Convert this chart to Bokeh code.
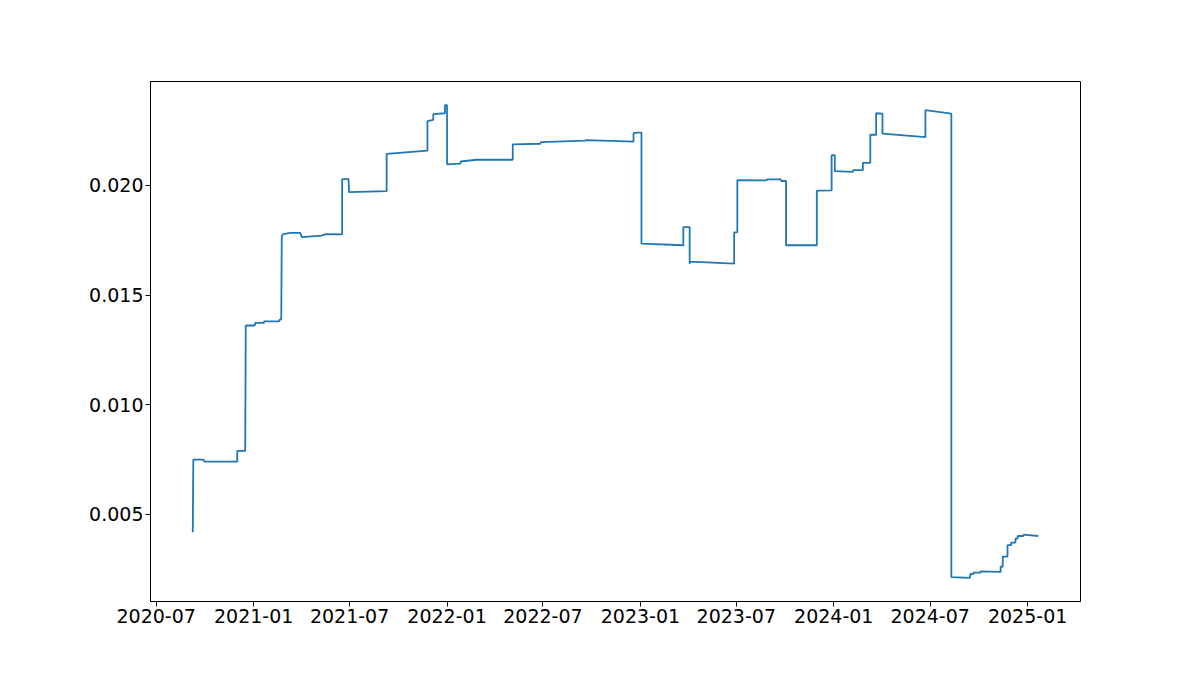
import datetime as dt
from bokeh.plotting import figure
from bokeh.models import FixedTicker, Range1d, CustomJSTickFormatter, NumeralTickFormatter
from bokeh.embed import file_html
from bokeh.resources import INLINE

dates = [
    "2020-09-08", "2020-09-09", "2020-09-28", "2020-09-30", "2020-12-01", "2020-12-01",
    "2020-12-16", "2020-12-17", "2021-01-03", "2021-01-04", "2021-01-20", "2021-01-21",
    "2021-02-18", "2021-02-19", "2021-02-22", "2021-02-23", "2021-02-26", "2021-03-11",
    "2021-03-30", "2021-04-02", "2021-05-09", "2021-05-17", "2021-06-17", "2021-06-17",
    "2021-06-29", "2021-06-30", "2021-09-09", "2021-09-09", "2021-11-25", "2021-11-25",
    "2021-12-06", "2021-12-06", "2021-12-28", "2021-12-28", "2022-01-01", "2022-01-01",
    "2022-01-26", "2022-01-27", "2022-02-26", "2022-05-05", "2022-05-05", "2022-06-26",
    "2022-06-27", "2022-09-19", "2022-09-20", "2022-12-19", "2022-12-19", "2022-12-25",
    "2023-01-03", "2023-01-03", "2023-03-23", "2023-03-23", "2023-04-04", "2023-04-04",
    "2023-04-05", "2023-06-27", "2023-06-27", "2023-07-03", "2023-07-03", "2023-08-27",
    "2023-08-28", "2023-09-23", "2023-09-24", "2023-10-03", "2023-10-03", "2023-11-02",
    "2023-11-30", "2023-11-30", "2023-12-28", "2023-12-28", "2024-01-03", "2024-01-03",
    "2024-02-06", "2024-02-07", "2024-02-25", "2024-02-25", "2024-03-10", "2024-03-10",
    "2024-03-21", "2024-03-21", "2024-04-02", "2024-04-02", "2024-06-22", "2024-06-22",
    "2024-08-10", "2024-08-10", "2024-09-14", "2024-09-15", "2024-09-21", "2024-09-21",
    "2024-10-04", "2024-10-04", "2024-11-11", "2024-11-11", "2024-11-15", "2024-11-15",
    "2024-11-24", "2024-11-24", "2024-12-01", "2024-12-01", "2024-12-09", "2024-12-09",
    "2024-12-13", "2024-12-13", "2024-12-24", "2024-12-24", "2025-01-21",
]
values = [
    0.00418, 0.00749, 0.00749, 0.00740, 0.00740, 0.00789,
    0.00789, 0.01361, 0.01361, 0.01373, 0.01373, 0.01380,
    0.01380, 0.01388, 0.01388, 0.01768, 0.01778, 0.01783,
    0.01783, 0.01764, 0.01771, 0.01778, 0.01777, 0.02029,
    0.02029, 0.01969, 0.01974, 0.02144, 0.02159, 0.02293,
    0.02299, 0.02325, 0.02329, 0.02366, 0.02366, 0.02096,
    0.02099, 0.02109, 0.02117, 0.02117, 0.02187, 0.02190,
    0.02197, 0.02204, 0.02206, 0.02200, 0.02238, 0.02241,
    0.02241, 0.01734, 0.01727, 0.01810, 0.01810, 0.01643,
    0.01652, 0.01643, 0.01786, 0.01786, 0.02024, 0.02023,
    0.02027, 0.02027, 0.02020, 0.02020, 0.01727, 0.01728,
    0.01727, 0.01976, 0.01977, 0.02138, 0.02138, 0.02065,
    0.02062, 0.02070, 0.02070, 0.02103, 0.02103, 0.02231,
    0.02231, 0.02329, 0.02327, 0.02236, 0.02220, 0.02343,
    0.02327, 0.00213, 0.00210, 0.00228, 0.00228, 0.00234,
    0.00234, 0.00240, 0.00237, 0.00261, 0.00261, 0.00307,
    0.00307, 0.00359, 0.00359, 0.00371, 0.00371, 0.00389,
    0.00389, 0.00401, 0.00401, 0.00407, 0.00401,
]
x_tick_labels = ["2020-07", "2021-01", "2021-07", "2022-01", "2022-07",
                 "2023-01", "2023-07", "2024-01", "2024-07", "2025-01"]
y_ticks = [0.005, 0.010, 0.015, 0.020]

xs = [dt.datetime.strptime(d, "%Y-%m-%d") for d in dates]
tick_dates = [dt.datetime.strptime(t + "-01", "%Y-%m-%d") for t in x_tick_labels]
epoch = dt.datetime(1970, 1, 1)
tick_ms = [(t - epoch).total_seconds() * 1000 for t in tick_dates]

W, H = 1200, 676
p = figure(width=W, height=H, x_axis_type="datetime", output_backend="svg",
           toolbar_location=None,
           min_border_left=150, min_border_right=120, min_border_top=81, min_border_bottom=75)

span = (xs[-1] - xs[0])
x0 = xs[0] - span * 0.05
x1 = xs[-1] + span * 0.05
p.x_range = Range1d(x0, x1)
vmin, vmax = min(values), max(values)
vs = vmax - vmin
p.y_range = Range1d(vmin - vs * 0.05, vmax + vs * 0.05)

p.line(xs, values, line_color="#1f77b4", line_width=1.8)

p.xgrid.visible = False
p.ygrid.visible = False
p.outline_line_color = "black"
p.outline_line_width = 1
p.background_fill_color = "white"
p.border_fill_color = "white"

p.xaxis.ticker = FixedTicker(ticks=tick_ms)
p.xaxis.formatter = CustomJSTickFormatter(code="""
const d = new Date(tick);
const m = d.getUTCMonth() + 1;
return d.getUTCFullYear() + "-" + (m < 10 ? "0" + m : "" + m);
""")
p.yaxis.ticker = FixedTicker(ticks=y_ticks)
p.yaxis.formatter = NumeralTickFormatter(format="0.000")

for ax in (p.xaxis[0], p.yaxis[0]):
    ax.major_label_text_font = "DejaVu Sans"
    ax.major_label_text_font_size = "19px"
    ax.major_label_text_color = "black"
    ax.axis_line_color = "black"
    ax.major_tick_line_color = "black"
    ax.major_tick_out = 5
    ax.major_tick_in = 0
    ax.minor_tick_line_color = None
    ax.major_label_standoff = 2

open("out.html", "w").write(file_html(p, INLINE))
